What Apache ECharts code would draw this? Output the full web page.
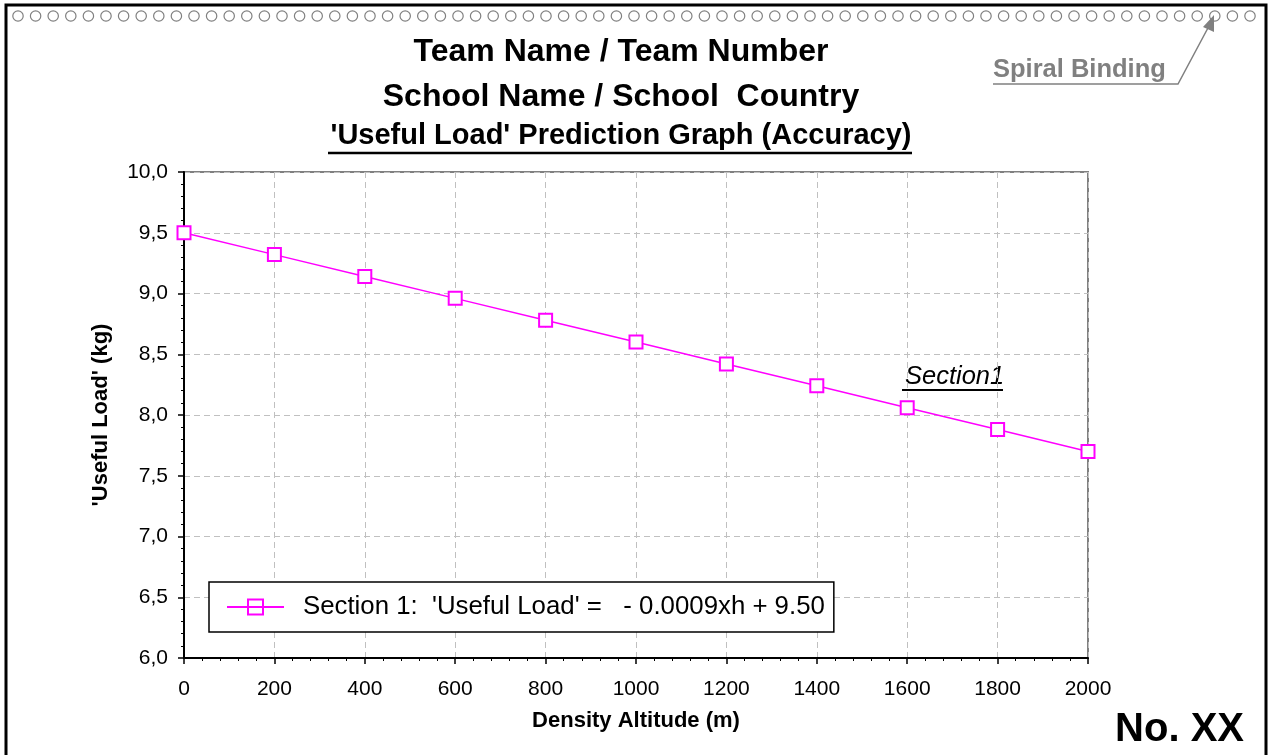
<!DOCTYPE html>
<html>
<head>
<meta charset="utf-8">
<script src="https://cdn.jsdelivr.net/npm/echarts@6/dist/echarts.min.js"></script>
<style>
html,body{margin:0;padding:0;background:#fff;}
#chart{width:1271px;height:755px;}
</style>
</head>
<body>
<div id="chart"></div>
<script>
// ---- data ----
const altitudes = [0, 200, 400, 600, 800, 1000, 1200, 1400, 1600, 1800, 2000];
const usefulLoad = [9.50, 9.32, 9.14, 8.96, 8.78, 8.60, 8.42, 8.24, 8.06, 7.88, 7.70];
const seriesName = "Section 1:  'Useful Load' =   - 0.0009xh + 9.50";
const titleLines = ["Team Name / Team Number", "School Name / School  Country", "'Useful Load' Prediction Graph (Accuracy)"];
const xAxisName = "Density Altitude (m)";
const yAxisName = "'Useful Load' (kg)";
const sectionLabel = "Section1";
const bindingLabel = "Spiral Binding";
const pageNumber = "No. XX";

const FONT = "'Liberation Sans', Arial, Helvetica, sans-serif";
const chart = echarts.init(document.getElementById('chart'), null, {renderer: 'canvas'});

// spiral binding circles (decoration)
const graphics = [];
for (let i = 0; i < 71; i++) {
  graphics.push({type: 'circle', silent: true, shape: {cx: 18 + i * 17.6, cy: 16, r: 5.2}, style: {fill: 'none', stroke: '#808080', lineWidth: 1.2}});
}
// page border
graphics.push({type: 'polyline', silent: true, shape: {points: [[6, 760], [6, 5], [1266, 5], [1266, 760]]}, style: {fill: 'none', stroke: '#000', lineWidth: 3}});
// titles
const titleY = [52, 97, 136];
const titleSize = [32, 32, 29];
titleLines.forEach((t, i) => {
  graphics.push({type: 'text', silent: true, x: 621, y: titleY[i], style: {text: t, font: 'bold ' + titleSize[i] + 'px ' + FONT, fill: '#000', align: 'center', verticalAlign: 'middle'}});
});
graphics.push({type: 'line', silent: true, shape: {x1: 328, y1: 153, x2: 912, y2: 153}, style: {stroke: '#000', lineWidth: 2.5}});
// spiral binding note
graphics.push({type: 'text', silent: true, x: 993, y: 70, style: {text: bindingLabel, font: 'bold 25.5px ' + FONT, fill: '#808080', align: 'left', verticalAlign: 'middle'}});
graphics.push({type: 'polyline', silent: true, shape: {points: [[993, 84], [1178, 84], [1209, 26]]}, style: {fill: 'none', stroke: '#808080', lineWidth: 1.5}});
graphics.push({type: 'polygon', silent: true, shape: {points: [[1214, 15], [1203, 27], [1214, 32]]}, style: {fill: '#808080'}});
// section label
graphics.push({type: 'text', silent: true, x: 905, y: 377, style: {text: sectionLabel, font: 'italic 25.5px ' + FONT, fill: '#000', align: 'left', verticalAlign: 'middle'}});
graphics.push({type: 'line', silent: true, shape: {x1: 902, y1: 390, x2: 1003, y2: 390}, style: {stroke: '#000', lineWidth: 2}});
// page number
graphics.push({type: 'text', silent: true, x: 1244, y: 730, style: {text: pageNumber, font: 'bold 40px ' + FONT, fill: '#000', align: 'right', verticalAlign: 'middle'}});

const option = {
  backgroundColor: '#fff',
  animation: false,
  textStyle: {fontFamily: FONT},
  grid: {left: 184, top: 172, right: 183, bottom: 97, show: true, borderColor: '#808080', borderWidth: 2, backgroundColor: 'transparent'},
  legend: {
    left: 209, top: 582, orient: 'horizontal', selectedMode: false,
    backgroundColor: '#fff', borderColor: '#000', borderWidth: 1.5,
    padding: [12, 9, 12, 17], itemWidth: 57, itemHeight: 15, itemGap: 20,
    textStyle: {fontSize: 25.8, color: '#000', fontFamily: FONT, padding: [0, 0, 0, 14]},
    data: [{name: seriesName, icon: 'path://M0,7.5H57M21,0H36V15H21Z'}]
  },
  xAxis: {
    type: 'value', min: 0, max: 2000, interval: 200,
    name: xAxisName, nameLocation: 'middle', nameGap: 52,
    nameTextStyle: {fontSize: 22, fontWeight: 'bold', color: '#000', fontFamily: FONT},
    axisLine: {show: true, lineStyle: {color: '#000', width: 2}},
    axisTick: {show: true, inside: false, length: 6, lineStyle: {color: '#000', width: 1.5}},
    minorTick: {show: true, splitNumber: 5, length: 3, lineStyle: {color: '#000', width: 1}},
    axisLabel: {fontSize: 21, color: '#000', margin: 21, fontFamily: FONT, formatter: v => String(v)},
    splitLine: {show: true, lineStyle: {color: '#c0c0c0', type: [6, 4], width: 1}}
  },
  yAxis: {
    type: 'value', min: 6, max: 10, interval: 0.5,
    name: yAxisName, nameLocation: 'middle', nameGap: 72, nameRotate: 90,
    nameTextStyle: {fontSize: 22, fontWeight: 'bold', color: '#000', fontFamily: FONT},
    axisLine: {show: true, lineStyle: {color: '#000', width: 2}},
    axisTick: {show: true, inside: false, length: 6, lineStyle: {color: '#000', width: 1.5}},
    minorTick: {show: true, splitNumber: 5, length: 3, lineStyle: {color: '#000', width: 1}},
    axisLabel: {fontSize: 21, color: '#000', margin: 16, fontFamily: FONT, formatter: v => v.toFixed(1).replace('.', ',')},
    splitLine: {show: true, lineStyle: {color: '#c0c0c0', type: [6, 4], width: 1}}
  },
  series: [{
    name: seriesName, type: 'line',
    data: altitudes.map((x, i) => [x, usefulLoad[i]]),
    symbol: 'rect', symbolSize: 13, showAllSymbol: true,
    lineStyle: {color: '#ff00ff', width: 1.5},
    itemStyle: {color: '#fff', borderColor: '#ff00ff', borderWidth: 2},
    z: 5, clip: false
  }],
  graphic: graphics
};
chart.setOption(option);
</script>
</body>
</html>
